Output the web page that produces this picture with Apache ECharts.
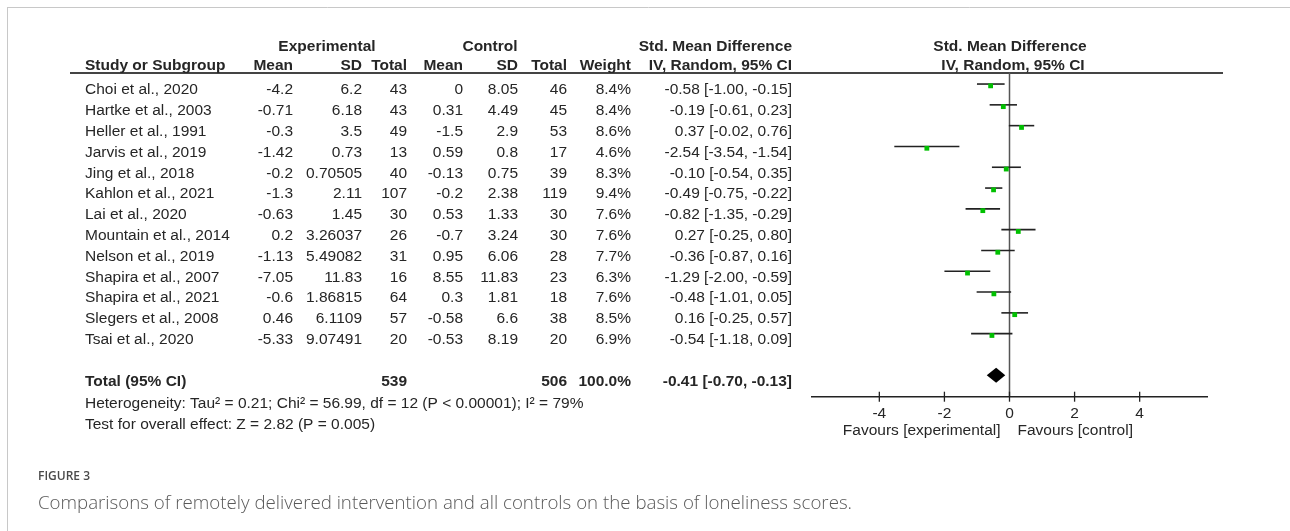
<!DOCTYPE html>
<html><head><meta charset="utf-8">
<script src="https://cdn.jsdelivr.net/npm/echarts@6/dist/echarts.min.js"></script>
<style>html,body{margin:0;padding:0;background:#fff;}#c{width:1290px;height:531px;}</style>
</head><body><div id="c"></div>
<script>
// ---- data ----
const studies = ['Choi et al., 2020','Hartke et al., 2003','Heller et al., 1991','Jarvis et al., 2019','Jing et al., 2018','Kahlon et al., 2021','Lai et al., 2020','Mountain et al., 2014','Nelson et al., 2019','Shapira et al., 2007','Shapira et al., 2021','Slegers et al., 2008','Tsai et al., 2020'];
const expMean = [-4.2,-0.71,-0.3,-1.42,-0.2,-1.3,-0.63,0.2,-1.13,-7.05,-0.6,0.46,-5.33];
const expSD = [6.2,6.18,3.5,0.73,0.70505,2.11,1.45,3.26037,5.49082,11.83,1.86815,6.1109,9.07491];
const expTotal = [43,43,49,13,40,107,30,26,31,16,64,57,20];
const ctrlMean = [0,0.31,-1.5,0.59,-0.13,-0.2,0.53,-0.7,0.95,8.55,0.3,-0.58,-0.53];
const ctrlSD = [8.05,4.49,2.9,0.8,0.75,2.38,1.33,3.24,6.06,11.83,1.81,6.6,8.19];
const ctrlTotal = [46,45,53,17,39,119,30,30,28,23,18,38,20];
const weight = [8.4,8.4,8.6,4.6,8.3,9.4,7.6,7.6,7.7,6.3,7.6,8.5,6.9];
const smd = [-0.58,-0.19,0.37,-2.54,-0.10,-0.49,-0.82,0.27,-0.36,-1.29,-0.48,0.16,-0.54];
const lower = [-1.00,-0.61,-0.02,-3.54,-0.54,-0.75,-1.35,-0.25,-0.87,-2.00,-1.01,-0.25,-1.18];
const upper = [-0.15,0.23,0.76,-1.54,0.35,-0.22,-0.29,0.80,0.16,-0.59,0.05,0.57,0.09];
const totalExp = 539, totalCtrl = 506, totalWeight = 100.0;
const pooled = [-0.41,-0.70,-0.13];
const xTicks = [-4,-2,0,2,4];
const heterogeneity = 'Heterogeneity: Tau\u00b2 = 0.21; Chi\u00b2 = 56.99, df = 12 (P < 0.00001); I\u00b2 = 79%';
const overall = 'Test for overall effect: Z = 2.82 (P = 0.005)';

// ---- layout ----
const FONT = '"Liberation Sans", Arial, sans-serif';
const FS = 15.5;
const TXT = '#262626';
const COLS = {name:85, eMean:293, eSD:362, eTot:407, cMean:463, cSD:518, cTot:567, w:631, ci:792};
const AX_MIN = -6.1, AX_MAX = 6.1, ROW_TOP = -0.55, ROW_AXIS = 15.03, TOTAL_ROW = 14;
const fmtCI = (e,l,u) => `${e.toFixed(2)} [${l.toFixed(2)}, ${u.toFixed(2)}]`;

function T(x, y, text, align, bold) {
  return {type:'text', x:x, y:y, silent:true, style:{
    text:text, fill:TXT, font:(bold?'bold ':'')+FS+'px '+FONT,
    align:align||'left', verticalAlign:'middle', textAlign:align||'left', textVerticalAlign:'middle'}};
}

const rows = studies.map((s,i)=>[i, lower[i], upper[i], smd[i], weight[i]]);

const chart = echarts.init(document.getElementById('c'), null, {renderer:'canvas'});
chart.setOption({
  animation:false,
  grid:{left:811, width:397, top:72.6, height:324.1},
  xAxis:{type:'value', min:AX_MIN, max:AX_MAX, show:false},
  yAxis:{type:'value', min:ROW_TOP, max:ROW_AXIS, inverse:true, show:false},
  series:[
    { // table rows
      type:'custom', data:rows, clip:false,
      renderItem:(p, api)=>{
        const i = api.value(0);
        const y = api.coord([0,i])[1] + 6;
        return {type:'group', children:[
          T(COLS.name,y,studies[i],'left'),
          T(COLS.eMean,y,String(expMean[i]),'right'),
          T(COLS.eSD,y,String(expSD[i]),'right'),
          T(COLS.eTot,y,String(expTotal[i]),'right'),
          T(COLS.cMean,y,String(ctrlMean[i]),'right'),
          T(COLS.cSD,y,String(ctrlSD[i]),'right'),
          T(COLS.cTot,y,String(ctrlTotal[i]),'right'),
          T(COLS.w,y,weight[i].toFixed(1)+'%','right'),
          T(COLS.ci,y,fmtCI(smd[i],lower[i],upper[i]),'right')
        ]};
      }
    },
    { // total row text
      type:'custom', data:[[TOTAL_ROW]], clip:false,
      renderItem:(p, api)=>{
        const y = api.coord([0,api.value(0)])[1] + 6;
        return {type:'group', children:[
          T(COLS.name,y,'Total (95% CI)','left',true),
          T(COLS.eTot,y,String(totalExp),'right',true),
          T(COLS.cTot,y,String(totalCtrl),'right',true),
          T(COLS.w,y,totalWeight.toFixed(1)+'%','right',true),
          T(COLS.ci,y,fmtCI(pooled[0],pooled[1],pooled[2]),'right',true),
          T(COLS.name,y+22,heterogeneity,'left'),
          T(COLS.name,y+43,overall,'left')
        ]};
      }
    },
    { // zero line
      type:'custom', data:[[0]], clip:false, z:1,
      renderItem:(p, api)=>{
        const a = api.coord([api.value(0), ROW_TOP]), b = api.coord([api.value(0), ROW_AXIS]);
        return {type:'line', shape:{x1:a[0],y1:a[1],x2:b[0],y2:b[1]}, style:{stroke:'#555', lineWidth:1.5}};
      }
    },
    { // x axis
      type:'custom', data:xTicks.map(v=>[v]), clip:false,
      renderItem:(p, api)=>{
        const v = api.value(0);
        const c = api.coord([v, ROW_AXIS]);
        const ch = [
          {type:'line', shape:{x1:c[0],y1:c[1]-5,x2:c[0],y2:c[1]+5}, style:{stroke:'#222', lineWidth:1.3}},
          T(c[0], c[1]+17, String(v), 'center')
        ];
        if (p.dataIndex === 0) {
          const a = api.coord([AX_MIN, ROW_AXIS]), b = api.coord([AX_MAX, ROW_AXIS]);
          ch.push({type:'line', shape:{x1:a[0],y1:a[1],x2:b[0],y2:b[1]}, style:{stroke:'#222', lineWidth:1.5}});
          const z = api.coord([0, ROW_AXIS]);
          ch.push(T(z[0]-9, z[1]+34, 'Favours [experimental]', 'right'));
          ch.push(T(z[0]+8, z[1]+34, 'Favours [control]', 'left'));
        }
        return {type:'group', children:ch};
      }
    },
    { // study CIs and squares
      type:'custom', data:rows, clip:false, z:3,
      renderItem:(p, api)=>{
        const i = api.value(0);
        const a = api.coord([api.value(1), i]), b = api.coord([api.value(2), i]), m = api.coord([api.value(3), i]);
        const s = 4.8;
        return {type:'group', children:[
          {type:'line', shape:{x1:a[0],y1:a[1],x2:b[0],y2:b[1]}, style:{stroke:'#222', lineWidth:1.6}},
          {type:'rect', shape:{x:m[0]-s/2, y:m[1]-0.6, width:s, height:s}, style:{fill:'#00c000'}}
        ]};
      }
    },
    { // pooled diamond
      type:'custom', data:[[TOTAL_ROW, pooled[1], pooled[0], pooled[2]]], clip:false, z:3,
      renderItem:(p, api)=>{
        const r = api.value(0);
        const l = api.coord([api.value(1), r]), m = api.coord([api.value(2), r]), h = api.coord([api.value(3), r]);
        return {type:'polygon', shape:{points:[[l[0],l[1]],[m[0],m[1]-7.5],[h[0],h[1]],[m[0],m[1]+7.5]]}, style:{fill:'#000'}};
      }
    }
  ],
  graphic:[
    {type:'line', shape:{x1:7,y1:7.5,x2:1290,y2:7.5}, style:{stroke:'#c8c8c8', lineWidth:1}},
    {type:'line', shape:{x1:7.5,y1:7,x2:7.5,y2:531}, style:{stroke:'#c8c8c8', lineWidth:1}},
    {type:'line', shape:{x1:70,y1:73,x2:1223,y2:73}, style:{stroke:'#444', lineWidth:2}},
    T(327,47,'Experimental','center',true),
    T(490,47,'Control','center',true),
    T(COLS.ci,47,'Std. Mean Difference','right',true),
    T(1010,47,'Std. Mean Difference','center',true),
    T(COLS.name,66,'Study or Subgroup','left',true),
    T(COLS.eMean,66,'Mean','right',true),
    T(COLS.eSD,66,'SD','right',true),
    T(COLS.eTot,66,'Total','right',true),
    T(COLS.cMean,66,'Mean','right',true),
    T(COLS.cSD,66,'SD','right',true),
    T(COLS.cTot,66,'Total','right',true),
    T(COLS.w,66,'Weight','right',true),
    T(COLS.ci,66,'IV, Random, 95% CI','right',true),
    T(1013,66,'IV, Random, 95% CI','center',true),
    {type:'text', x:38, y:477, style:{text:'FIGURE 3', fill:'#4a4a4a', font:'600 12px "Open Sans", sans-serif', verticalAlign:'middle', textVerticalAlign:'middle'}},
    {type:'text', x:38, y:504, style:{text:'Comparisons of remotely delivered intervention and all controls on the basis of loneliness scores.', fill:'#595959', font:'300 18.7px "Open Sans", sans-serif', verticalAlign:'middle', textVerticalAlign:'middle'}}
  ]
});
</script></body></html>
